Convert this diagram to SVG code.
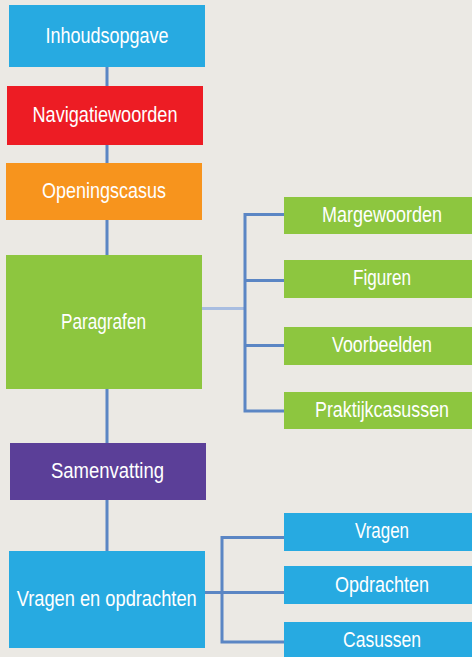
<svg xmlns="http://www.w3.org/2000/svg" width="472" height="657" viewBox="0 0 472 657">
  <style>
    .bg { fill: #ebe9e4; }
    .lbl { font-family: "Liberation Sans", Arial, sans-serif; font-size: 22px; fill: #ffffff; text-anchor: middle; }
    .blue { fill: #27aae1; }
    .red { fill: #ed1c24; }
    .orange { fill: #f7941d; }
    .green { fill: #8dc63f; }
    .purple { fill: #5b3f98; }
    .conn { stroke: #5b86c4; stroke-width: 3; fill: none; }
    .conn-light { stroke: #a8bde0; stroke-width: 3; fill: none; }
  </style>
  <rect class="bg" x="0" y="0" width="472" height="657"/>

  <g id="connectors">
    <line class="conn" x1="107" y1="67" x2="107" y2="551"/>
    <line class="conn-light" x1="202" y1="308.5" x2="245" y2="308.5"/>
    <path class="conn" d="M284 214.5 H245 V411 H284 M245 280.5 H284 M245 345.5 H284"/>
    <path class="conn" d="M284 537.5 H222 V642 H284 M205 592.5 H284"/>
  </g>

  <g id="inhoudsopgave">
    <rect class="blue" x="9" y="5" width="196" height="62"/>
    <text class="lbl" x="107" y="43" textLength="123" lengthAdjust="spacingAndGlyphs">Inhoudsopgave</text>
  </g>
  <g id="navigatiewoorden">
    <rect class="red" x="7" y="86" width="196" height="59"/>
    <text class="lbl" x="105" y="122" textLength="145" lengthAdjust="spacingAndGlyphs">Navigatiewoorden</text>
  </g>
  <g id="openingscasus">
    <rect class="orange" x="6" y="163" width="196" height="57"/>
    <text class="lbl" x="104" y="198" textLength="124" lengthAdjust="spacingAndGlyphs">Openingscasus</text>
  </g>
  <g id="paragrafen">
    <rect class="green" x="6" y="255" width="196" height="134"/>
    <text class="lbl" x="103.5" y="329" textLength="85" lengthAdjust="spacingAndGlyphs">Paragrafen</text>
  </g>
  <g id="margewoorden">
    <rect class="green" x="284" y="197" width="188" height="37"/>
    <text class="lbl" x="382" y="222" textLength="120" lengthAdjust="spacingAndGlyphs">Margewoorden</text>
  </g>
  <g id="figuren">
    <rect class="green" x="284" y="260" width="188" height="38"/>
    <text class="lbl" x="382" y="285" textLength="58" lengthAdjust="spacingAndGlyphs">Figuren</text>
  </g>
  <g id="voorbeelden">
    <rect class="green" x="284" y="327" width="188" height="38"/>
    <text class="lbl" x="382" y="352" textLength="100" lengthAdjust="spacingAndGlyphs">Voorbeelden</text>
  </g>
  <g id="praktijkcasussen">
    <rect class="green" x="284" y="392" width="188" height="37"/>
    <text class="lbl" x="382" y="417" textLength="134" lengthAdjust="spacingAndGlyphs">Praktijkcasussen</text>
  </g>
  <g id="samenvatting">
    <rect class="purple" x="10" y="443" width="196" height="57"/>
    <text class="lbl" x="107.5" y="478" textLength="113" lengthAdjust="spacingAndGlyphs">Samenvatting</text>
  </g>
  <g id="vragen-en-opdrachten">
    <rect class="blue" x="9" y="551" width="196" height="97"/>
    <text class="lbl" x="106.7" y="606" textLength="180" lengthAdjust="spacingAndGlyphs">Vragen en opdrachten</text>
  </g>
  <g id="vragen">
    <rect class="blue" x="284" y="513" width="188" height="38"/>
    <text class="lbl" x="382" y="538" textLength="54" lengthAdjust="spacingAndGlyphs">Vragen</text>
  </g>
  <g id="opdrachten">
    <rect class="blue" x="284" y="566" width="188" height="38"/>
    <text class="lbl" x="382" y="592" textLength="94" lengthAdjust="spacingAndGlyphs">Opdrachten</text>
  </g>
  <g id="casussen">
    <rect class="blue" x="284" y="622" width="188" height="35"/>
    <text class="lbl" x="382" y="647" textLength="78" lengthAdjust="spacingAndGlyphs">Casussen</text>
  </g>
</svg>
